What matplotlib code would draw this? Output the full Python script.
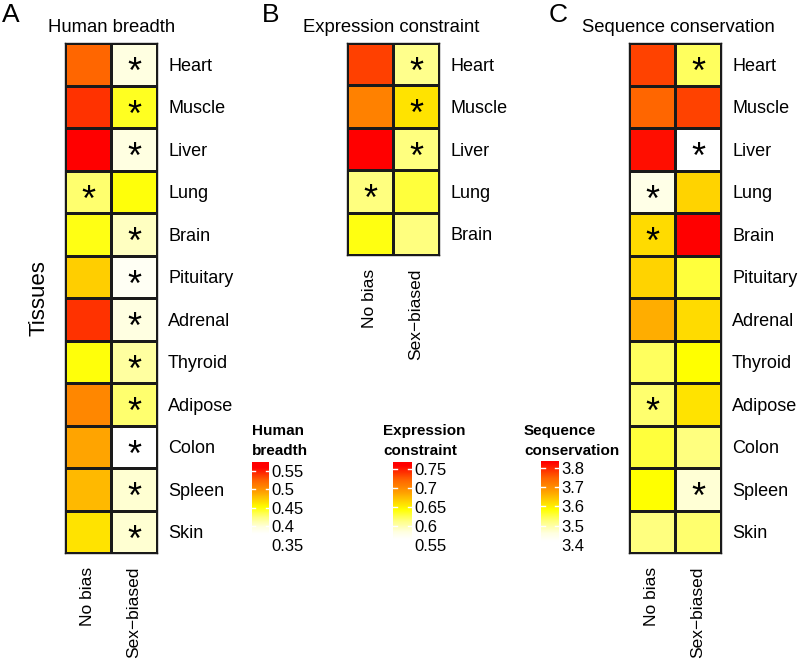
import matplotlib
matplotlib.use("Agg")
import matplotlib.pyplot as plt
import numpy as np
from matplotlib.colors import LinearSegmentedColormap, Normalize

plt.rcParams['font.family'] = ['Liberation Sans', 'DejaVu Sans']

# veriler
tissues_all = ["Heart", "Muscle", "Liver", "Lung", "Brain", "Pituitary", "Adrenal",
               "Thyroid", "Adipose", "Colon", "Spleen", "Skin"]
tissues_b = ["Heart", "Muscle", "Liver", "Lung", "Brain"]
groups = ["No bias", "Sex\u2212biased"]

breadth_nobias = [0.524, 0.542, 0.560, 0.429, 0.448, 0.474, 0.542, 0.450, 0.506, 0.492, 0.483, 0.465]
breadth_sex = [0.398, 0.445, 0.398, 0.450, 0.407, 0.387, 0.398, 0.416, 0.429, 0.380, 0.402, 0.402]
breadth_star_nobias = [0, 0, 0, 1, 0, 0, 0, 0, 0, 0, 0, 0]
breadth_star_sex = [1, 1, 1, 0, 1, 1, 1, 1, 1, 1, 1, 1]

constr_nobias = [0.735, 0.705, 0.760, 0.614, 0.639]
constr_sex = [0.610, 0.657, 0.614, 0.629, 0.614]
constr_star_nobias = [0, 0, 0, 1, 0]
constr_star_sex = [1, 1, 1, 0, 0]

cons_nobias = [3.777, 3.748, 3.818, 3.453, 3.621, 3.629, 3.666, 3.539, 3.531, 3.555, 3.584, 3.523]
cons_sex = [3.539, 3.777, 3.420, 3.629, 3.830, 3.555, 3.621, 3.584, 3.613, 3.523, 3.469, 3.531]
cons_star_nobias = [0, 0, 0, 1, 1, 0, 0, 0, 1, 0, 0, 0]
cons_star_sex = [1, 0, 1, 0, 0, 0, 0, 0, 0, 0, 1, 0]

breadth_ticks = [0.35, 0.4, 0.45, 0.5, 0.55]
constr_ticks = [0.55, 0.6, 0.65, 0.7, 0.75]
cons_ticks = [3.4, 3.5, 3.6, 3.7, 3.8]

cmap = LinearSegmentedColormap.from_list("heat_r", [
    (0.0, "#FFFFFF"), (0.1, "#FFFFE0"), (0.25, "#FFFF80"), (0.4, "#FFFF00"),
    (0.5, "#FFD700"), (0.62, "#FFA500"), (0.72, "#FF8000"), (0.8, "#FF6600"),
    (0.9, "#FF3300"), (1.0, "#FF0000")])

W, H = 800, 659
fig = plt.figure(figsize=(W / 100, H / 100), dpi=100)


def px_axes(x0, y0, x1, y1):
    return fig.add_axes([x0 / W, 1 - y1 / H, (x1 - x0) / W, (y1 - y0) / H])


def heatmap(x0, y0, x1, y1, nobias, sex, star_nb, star_sb, rows, norm, ylab=None):
    ax = px_axes(x0, y0, x1, y1)
    data = np.column_stack([nobias, sex])
    n = len(rows)
    ax.pcolormesh(np.arange(3), np.arange(n + 1), data, cmap=cmap, norm=norm,
                  edgecolors="#1a1a1a", linewidth=0.8)
    ax.set_xlim(0, 2)
    ax.set_ylim(n, 0)
    for i in range(n):
        for j, st in enumerate([star_nb, star_sb]):
            if st[i]:
                ax.text(j + 0.5, i + 0.72, "*", ha="center", va="center", fontsize=26)
    ax.yaxis.tick_right()
    ax.set_yticks(np.arange(n) + 0.5)
    ax.set_yticklabels(rows, fontsize=13)
    ax.set_xticks([0.5, 1.5])
    ax.set_xticklabels(groups, rotation=90, fontsize=12.5)
    ax.tick_params(axis="y", length=0, pad=8)
    ax.tick_params(axis="x", length=0, pad=10)
    for s in ax.spines.values():
        s.set_color("#1a1a1a")
        s.set_linewidth(1.0)
    if ylab:
        ax.set_ylabel(ylab, fontsize=16, labelpad=11)
    return ax


def colorbar(x0, y0, x1, y1, ticks, top, norm, title, tx):
    ax = px_axes(x0, y0, x1, y1)
    lo = ticks[0]
    vals = np.linspace(lo, top, 300)[:, None]
    ax.imshow(vals, cmap=cmap, norm=norm, aspect="auto", origin="lower",
              extent=[0, 1, lo, top])
    ax.set_xlim(0, 1)
    ax.set_ylim(lo, top)
    for t in ticks:
        ax.plot([0, 0.2], [t, t], color="white", lw=1)
        ax.plot([0.8, 1], [t, t], color="white", lw=1)
    ax.set_xticks([])
    ax.yaxis.tick_right()
    ax.set_yticks(ticks)
    ax.set_yticklabels([f"{t:g}" for t in ticks], fontsize=12)
    ax.tick_params(length=0, pad=2)
    for s in ax.spines.values():
        s.set_visible(False)
    for k, line in enumerate(title):
        fig.text(tx / W, 1 - (435 + 20 * k) / H, line, fontsize=11,
                 fontweight="bold", ha="left", va="baseline")


norm_a = Normalize(0.38, 0.56)
norm_b = Normalize(0.565, 0.76)
norm_c = Normalize(3.42, 3.83)

heatmap(65, 43, 157, 553, breadth_nobias, breadth_sex, breadth_star_nobias,
        breadth_star_sex, tissues_all, norm_a, ylab="Tissues")
heatmap(347, 43, 439, 255, constr_nobias, constr_sex, constr_star_nobias,
        constr_star_sex, tissues_b, norm_b)
heatmap(629, 43, 721, 553, cons_nobias, cons_sex, cons_star_nobias,
        cons_star_sex, tissues_all, norm_c)

colorbar(252, 462, 269, 545, breadth_ticks, 0.574, norm_a, ["Human", "breadth"], 252)
colorbar(393, 462, 412, 545, constr_ticks, 0.768, norm_b, ["Expression", "constraint"], 383)
colorbar(541, 461, 559, 545, cons_ticks, 3.836, norm_c, ["Sequence", "conservation"], 524)

fig.text(2 / W, 1 - 15 / H, "A", fontsize=19, va="center", ha="left")
fig.text(262 / W, 1 - 15 / H, "B", fontsize=19, va="center", ha="left")
fig.text(549 / W, 1 - 15 / H, "C", fontsize=19, va="center", ha="left")
fig.text(48 / W, 1 - 27 / H, "Human breadth", fontsize=13.3, va="center", ha="left")
fig.text(303 / W, 1 - 27 / H, "Expression constraint", fontsize=13.3, va="center", ha="left")
fig.text(582 / W, 1 - 27 / H, "Sequence conservation", fontsize=13.3, va="center", ha="left")

fig.savefig("out.png", dpi=100)
